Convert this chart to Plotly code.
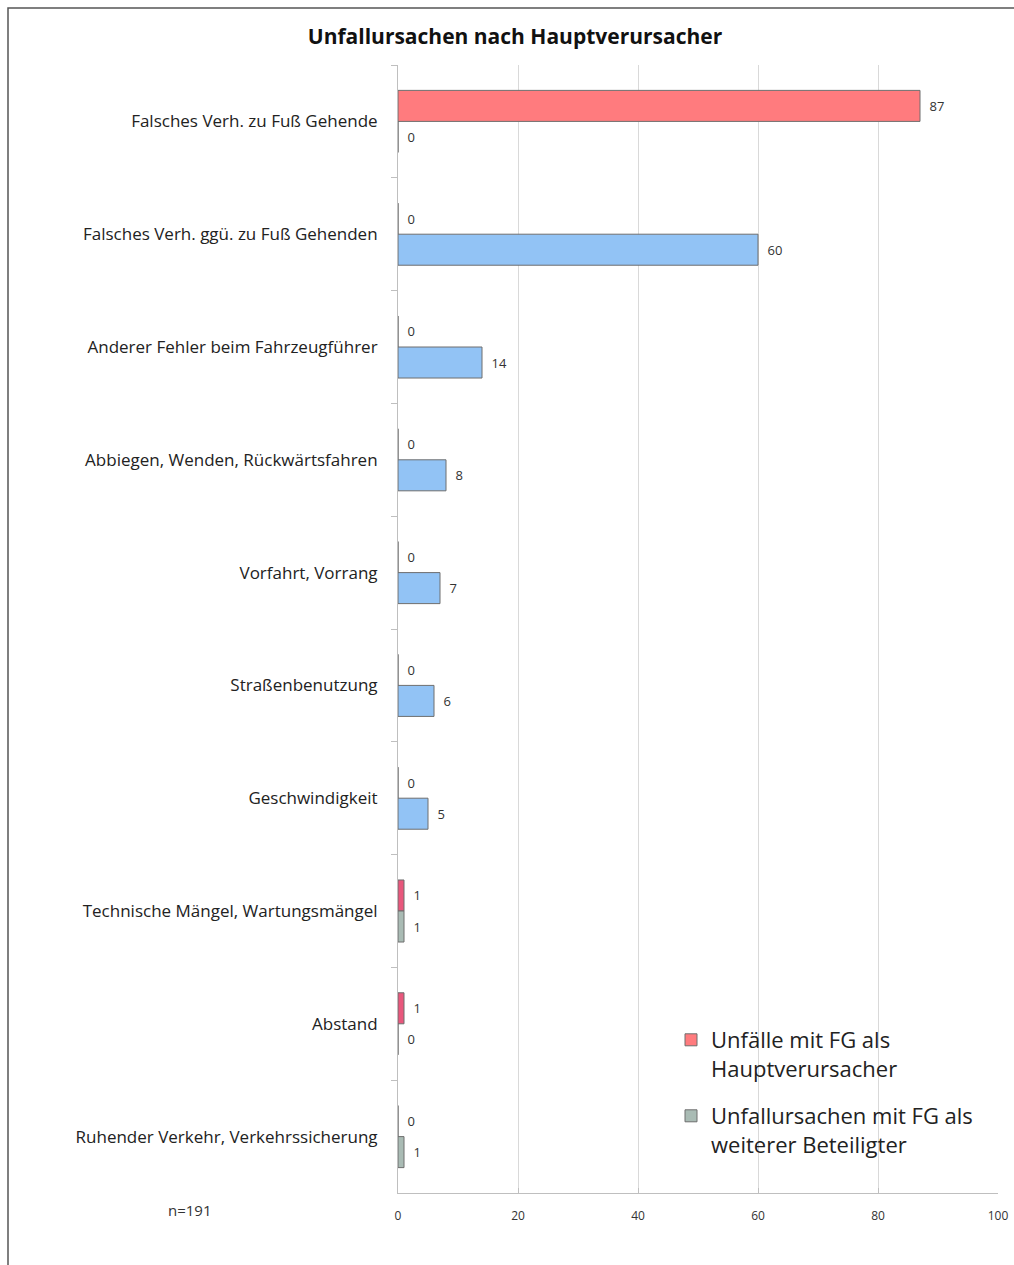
import plotly.graph_objects as go

categories = [
    "Falsches Verh. zu Fuß Gehende",
    "Falsches Verh. ggü. zu Fuß Gehenden",
    "Anderer Fehler beim Fahrzeugführer",
    "Abbiegen, Wenden, Rückwärtsfahren",
    "Vorfahrt, Vorrang",
    "Straßenbenutzung",
    "Geschwindigkeit",
    "Technische Mängel, Wartungsmängel",
    "Abstand",
    "Ruhender Verkehr, Verkehrssicherung",
]
haupt = [87, 0, 0, 0, 0, 0, 0, 1, 1, 0]
weitere = [0, 60, 14, 8, 7, 6, 5, 1, 0, 1]
x_ticks = [0, 20, 40, 60, 80, 100]

name_haupt = "Unfälle mit FG als<br>Hauptverursacher"
name_weitere = "Unfallursachen mit FG als<br>weiterer Beteiligter"

red_main, red_thin = "#FF7B7E", "#E8577C"
blue_main, blue_thin = "#92C3F5", "#A9BBB4"
red_colors = [red_thin if v <= 1 else red_main for v in haupt]
blue_colors = [blue_thin if v <= 1 else blue_main for v in weitere]

font_fam = "Open Sans, Liberation Sans, sans-serif"

W, H = 1014, 1265
L, R, T, B = 398, 16, 65, 72
PW, PH = W - L - R, H - T - B


def px_x(p):
    return (p - L) / PW


def px_y(p):
    return (H - B - p) / PH


label_tpl = "\u2002%{x}"

fig = go.Figure()
fig.add_trace(go.Bar(
    y=categories, x=haupt, orientation="h", name=name_haupt, legend="legend",
    marker=dict(color=red_colors, line=dict(color="#6E6E6E", width=1)),
    texttemplate=label_tpl, textposition="outside",
    textfont=dict(size=13, color="#333333", family=font_fam),
    cliponaxis=False,
))
fig.add_trace(go.Bar(
    y=categories, x=weitere, orientation="h", name=name_weitere, legend="legend2",
    marker=dict(color=blue_colors, line=dict(color="#6E6E6E", width=1)),
    texttemplate=label_tpl, textposition="outside",
    textfont=dict(size=13, color="#333333", family=font_fam),
    cliponaxis=False,
))

legend_common = dict(xanchor="left", yanchor="top", valign="top",
                     font=dict(size=22, color="#222222", family=font_fam),
                     bgcolor="rgba(255,255,255,0)", itemwidth=30)

fig.update_layout(
    width=W, height=H,
    margin=dict(l=L, r=R, t=T, b=B, autoexpand=False),
    paper_bgcolor="white", plot_bgcolor="white",
    barmode="group", bargap=0.45, bargroupgap=0,
    title=dict(text="<b>Unfallursachen nach Hauptverursacher</b>",
               x=515 / W, xanchor="center", xref="container",
               y=1 - 37 / H, yanchor="middle", yref="container",
               font=dict(size=21, color="#111111", family=font_fam)),
    font=dict(family=font_fam, color="#333333"),
    legend=dict(x=px_x(671), y=px_y(1019), **legend_common),
    legend2=dict(x=px_x(671), y=px_y(1095), **legend_common),
    showlegend=True,
)
fig.update_xaxes(
    range=[0, 100], tickvals=x_ticks, ticktext=[str(v) for v in x_ticks],
    showgrid=True, gridcolor="#D9D9D9", gridwidth=1,
    showline=True, linecolor="#BFBFBF", linewidth=1,
    ticks="inside", ticklen=5, tickcolor="#BFBFBF",
    tickfont=dict(size=12, color="#333333"), ticklabelstandoff=12,
    zeroline=False, automargin=False,
)
fig.update_yaxes(
    autorange="reversed", showline=True, linecolor="#BFBFBF", linewidth=1,
    ticks="outside", tickson="boundaries", ticklen=6, tickcolor="#BFBFBF",
    tickfont=dict(size=17, color="#222222"), ticklabelstandoff=16,
    showgrid=False, automargin=False,
)
fig.add_annotation(text="n=191", x=px_x(190), y=px_y(1210), xref="paper", yref="paper",
                   xanchor="center", yanchor="middle",
                   showarrow=False, font=dict(size=15, color="#333333"))
fig.add_shape(type="rect", xref="paper", yref="paper",
              x0=px_x(8), x1=px_x(1040),
              y0=px_y(1290), y1=px_y(8),
              line=dict(color="#555555", width=1.5), fillcolor="rgba(0,0,0,0)",
              layer="below")

fig.write_html("out.html")
